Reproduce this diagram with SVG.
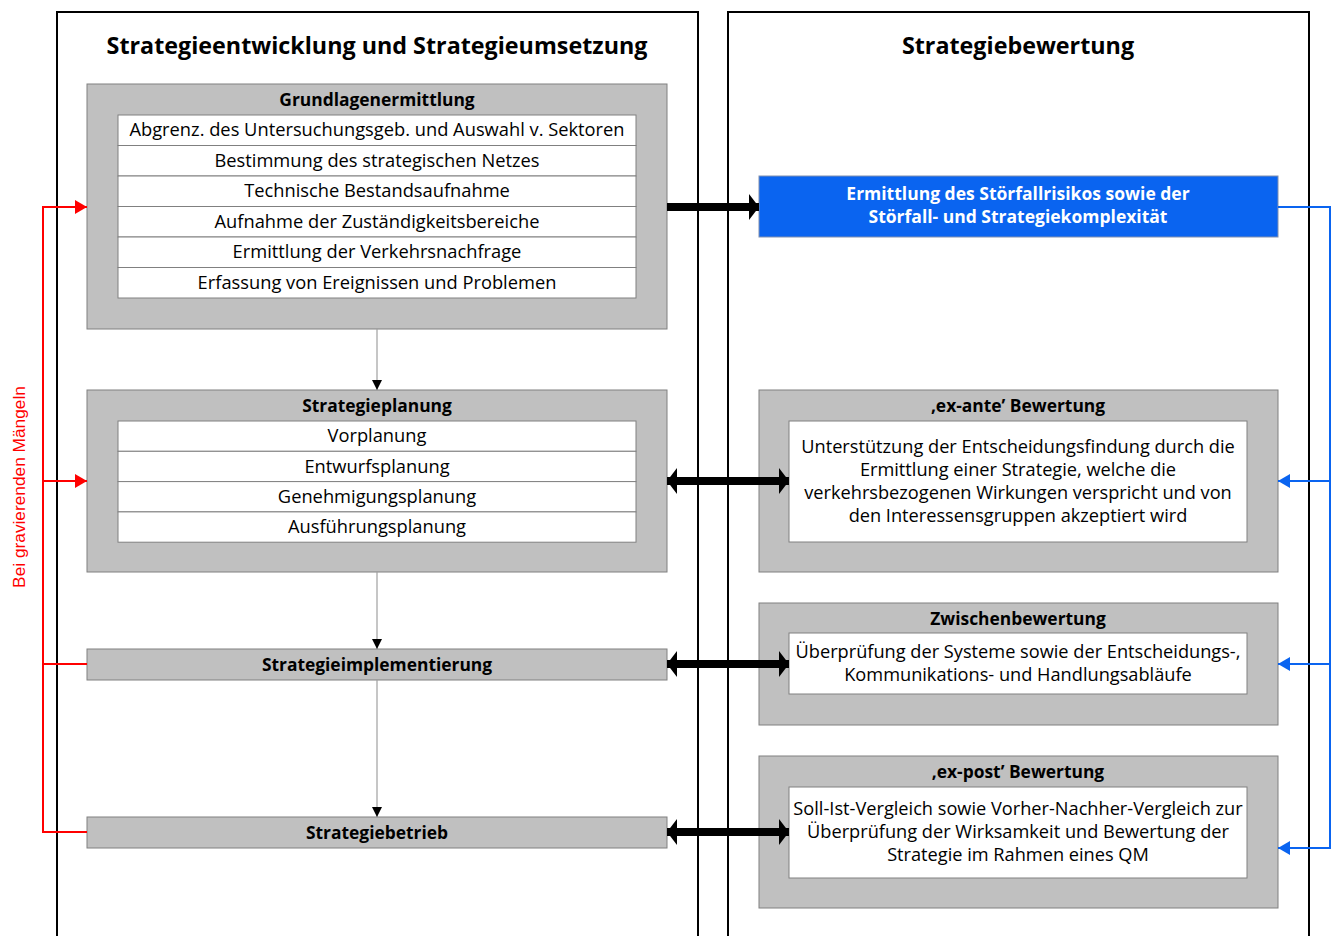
<svg xmlns="http://www.w3.org/2000/svg" width="1337" height="936" viewBox="0 0 1337 936">
<defs>
<style>
.panel{fill:none;stroke:#000;stroke-width:2}
.gbox{fill:#c0c0c0;stroke:#808080;stroke-width:1}
.wrow{fill:#fff;stroke:#808080;stroke-width:1}
.h1{font-family:"Open Sans","Noto Sans",sans-serif;font-weight:bold;font-size:23.3px;text-anchor:middle;fill:#000}
.h2{font-family:"Open Sans","Noto Sans",sans-serif;font-weight:bold;font-size:17.4px;text-anchor:middle;fill:#000}
.t{font-family:"Open Sans","Noto Sans",sans-serif;font-size:18.3px;text-anchor:middle;fill:#000}
.tr{font-family:"Open Sans","Noto Sans",sans-serif;font-size:18.2px;text-anchor:middle;fill:#000}
.wt{font-family:"Open Sans","Noto Sans",sans-serif;font-weight:bold;font-size:17.5px;text-anchor:middle;fill:#fff}
.gray{stroke:#a0a0a0;stroke-width:1.2;fill:none}
.red{stroke:#ff0000;stroke-width:2;fill:none}
.blue{stroke:#0a64f0;stroke-width:2;fill:none}
.thick{stroke:#000;stroke-width:8;fill:none}
</style>
<marker id="ah" markerWidth="10" markerHeight="10" refX="10" refY="5" orient="auto" markerUnits="userSpaceOnUse"><path d="M0,0 L10,5 L0,10 z" fill="#000"/></marker>
<marker id="ahr" markerWidth="12" markerHeight="14" refX="12" refY="7" orient="auto" markerUnits="userSpaceOnUse"><path d="M0,0 L12,7 L0,14 z" fill="#ff0000"/></marker>
<marker id="ahb" markerWidth="12" markerHeight="14" refX="12" refY="7" orient="auto" markerUnits="userSpaceOnUse"><path d="M0,0 L12,7 L0,14 z" fill="#0a64f0"/></marker>
<marker id="ahk" markerWidth="10" markerHeight="26" refX="10" refY="13" orient="auto" markerUnits="userSpaceOnUse"><path d="M0,0 L10,13 L0,26 z" fill="#000"/></marker>
<marker id="ahks" markerWidth="10" markerHeight="26" refX="0" refY="13" orient="auto" markerUnits="userSpaceOnUse"><path d="M10,0 L0,13 L10,26 z" fill="#000"/></marker>
</defs>
<rect width="1337" height="936" fill="#fff"/>

<g id="panel-left">
<path class="panel" d="M57,940 V12 H698 V940"/>
<text class="h1" x="377" y="54">Strategieentwicklung und Strategieumsetzung</text>
</g>
<g id="panel-right">
<path class="panel" d="M728,940 V12 H1309 V940"/>
<text class="h1" x="1018" y="54">Strategiebewertung</text>
</g>

<g id="grundlagen">
<rect class="gbox" x="87" y="84" width="580" height="245"/>
<text class="h2" x="377" y="106">Grundlagenermittlung</text>
<rect class="wrow" x="118" y="115" width="518" height="30.5"/>
<rect class="wrow" x="118" y="145.5" width="518" height="30.5"/>
<rect class="wrow" x="118" y="176" width="518" height="30.5"/>
<rect class="wrow" x="118" y="206.5" width="518" height="30.5"/>
<rect class="wrow" x="118" y="237" width="518" height="30.5"/>
<rect class="wrow" x="118" y="267.5" width="518" height="30.5"/>
<text class="t" x="377" y="136">Abgrenz. des Untersuchungsgeb. und Auswahl v. Sektoren</text>
<text class="t" x="377" y="167">Bestimmung des strategischen Netzes</text>
<text class="t" x="377" y="197">Technische Bestandsaufnahme</text>
<text class="t" x="377" y="228">Aufnahme der Zuständigkeitsbereiche</text>
<text class="t" x="377" y="258">Ermittlung der Verkehrsnachfrage</text>
<text class="t" x="377" y="289">Erfassung von Ereignissen und Problemen</text>
</g>

<g id="strategieplanung">
<rect class="gbox" x="87" y="390" width="580" height="182"/>
<text class="h2" x="377" y="412">Strategieplanung</text>
<rect class="wrow" x="118" y="421" width="518" height="30.3"/>
<rect class="wrow" x="118" y="451.3" width="518" height="30.3"/>
<rect class="wrow" x="118" y="481.6" width="518" height="30.3"/>
<rect class="wrow" x="118" y="511.9" width="518" height="30.3"/>
<text class="t" x="377" y="442">Vorplanung</text>
<text class="t" x="377" y="473">Entwurfsplanung</text>
<text class="t" x="377" y="503">Genehmigungsplanung</text>
<text class="t" x="377" y="533">Ausführungsplanung</text>
</g>

<g id="implementierung">
<rect class="gbox" x="87" y="649" width="580" height="31"/>
<text class="h2" x="377" y="671">Strategieimplementierung</text>
</g>

<g id="betrieb">
<rect class="gbox" x="87" y="817" width="580" height="31"/>
<text class="h2" x="377" y="839">Strategiebetrieb</text>
</g>

<g id="stoerfall">
<rect x="759" y="176" width="519" height="61" fill="#0a64f0" stroke="#8090b0" stroke-width="1"/>
<text class="wt" x="1018" y="200">Ermittlung des Störfallrisikos sowie der</text>
<text class="wt" x="1018" y="223">Störfall- und Strategiekomplexität</text>
</g>

<g id="exante">
<rect class="gbox" x="759" y="390" width="519" height="182"/>
<text class="h2" x="1018" y="412">‚ex-ante’ Bewertung</text>
<rect class="wrow" x="789" y="421" width="458" height="121"/>
<text class="tr" x="1018" y="453">Unterstützung der Entscheidungsfindung durch die</text>
<text class="tr" x="1018" y="476">Ermittlung einer Strategie, welche die</text>
<text class="tr" x="1018" y="499">verkehrsbezogenen Wirkungen verspricht und von</text>
<text class="tr" x="1018" y="522">den Interessensgruppen akzeptiert wird</text>
</g>

<g id="zwischen">
<rect class="gbox" x="759" y="603" width="519" height="122"/>
<text class="h2" x="1018" y="625">Zwischenbewertung</text>
<rect class="wrow" x="789" y="633" width="458" height="61"/>
<text class="tr" x="1018" y="658">Überprüfung der Systeme sowie der Entscheidungs-,</text>
<text class="tr" x="1018" y="681">Kommunikations- und Handlungsabläufe</text>
</g>

<g id="expost">
<rect class="gbox" x="759" y="756" width="519" height="152"/>
<text class="h2" x="1018" y="778">‚ex-post’ Bewertung</text>
<rect class="wrow" x="789" y="787" width="458" height="91"/>
<text class="tr" x="1018" y="815">Soll-Ist-Vergleich sowie Vorher-Nachher-Vergleich zur</text>
<text class="tr" x="1018" y="838">Überprüfung der Wirksamkeit und Bewertung der</text>
<text class="tr" x="1018" y="861">Strategie im Rahmen eines QM</text>
</g>

<g id="connectors">
<line class="gray" x1="377" y1="329" x2="377" y2="390" marker-end="url(#ah)"/>
<line class="gray" x1="377" y1="572" x2="377" y2="649" marker-end="url(#ah)"/>
<line class="gray" x1="377" y1="680" x2="377" y2="817" marker-end="url(#ah)"/>

<line class="thick" x1="667" y1="207" x2="759" y2="207" marker-end="url(#ahk)"/>
<line class="thick" x1="667" y1="481" x2="789" y2="481" marker-start="url(#ahks)" marker-end="url(#ahk)"/>
<line class="thick" x1="667" y1="664" x2="789" y2="664" marker-start="url(#ahks)" marker-end="url(#ahk)"/>
<line class="thick" x1="667" y1="832" x2="789" y2="832" marker-start="url(#ahks)" marker-end="url(#ahk)"/>

<path class="red" d="M87,664 H43 V207 H87" marker-end="url(#ahr)"/>
<path class="red" d="M87,832 H43 V664"/>
<line class="red" x1="43" y1="481" x2="87" y2="481" marker-end="url(#ahr)"/>
<text x="19" y="487" transform="rotate(-90 19 487)" font-family="Liberation Sans, Arial, sans-serif" font-size="17.3" fill="#ff0000" text-anchor="middle" dominant-baseline="central">Bei gravierenden Mängeln</text>

<path class="blue" d="M1278,207 H1330 V848 H1278" marker-end="url(#ahb)"/>
<line class="blue" x1="1330" y1="481" x2="1278" y2="481" marker-end="url(#ahb)"/>
<line class="blue" x1="1330" y1="664" x2="1278" y2="664" marker-end="url(#ahb)"/>
</g>
</svg>
